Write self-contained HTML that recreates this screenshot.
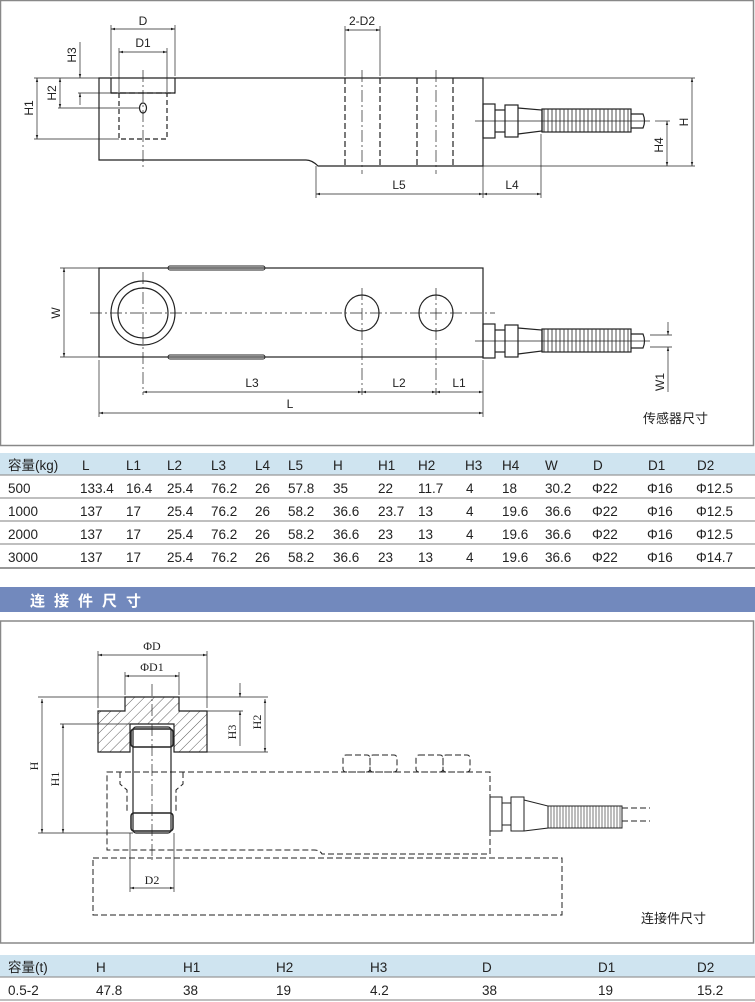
<!DOCTYPE html>
<html><head><meta charset="utf-8"><style>
body{margin:0;width:755px;height:1002px;background:#fff;overflow:hidden;font-family:"Liberation Sans","Noto Sans CJK SC",sans-serif}
svg{position:absolute;left:0;top:0}
</style></head><body>
<svg width="755" height="1002" viewBox="0 0 755 1002" font-family="Liberation Sans, Noto Sans CJK SC, sans-serif">
<defs>
<pattern id="hat" width="7" height="7" patternUnits="userSpaceOnUse" patternTransform="rotate(45)"><line x1="0" y1="0" x2="0" y2="7" stroke="#333" stroke-width="0.8"/></pattern>
<marker id="a" viewBox="0 0 10 10" refX="10" refY="5" markerWidth="6" markerHeight="6" orient="auto-start-reverse"><path d="M0,2 L10,5 L0,8z" fill="#222"/></marker>
</defs>
<!-- frame 1 -->
<rect x="0.5" y="0.5" width="753" height="445" fill="none" stroke="#888" stroke-width="1.5"/>
<g stroke="#222" fill="none" stroke-width="1.2">
<!-- top view -->
<path d="M99,78 H483 V166 H318 Q312,160 306,160 H99 Z"/>
<path d="M111,78 V93 H175 V78"/>
<path d="M119,93 V139 H167 V93" stroke-dasharray="5,3"/>
<line x1="111" y1="93" x2="175" y2="93" stroke-dasharray="6,3"/>
<ellipse cx="143" cy="108" rx="3.5" ry="5"/>
<g stroke-dasharray="6,3"><line x1="345" y1="78" x2="345" y2="166"/><line x1="380" y1="78" x2="380" y2="166"/><line x1="417" y1="78" x2="417" y2="166"/><line x1="453" y1="78" x2="453" y2="166"/></g>
<g stroke-width="0.7" stroke-dasharray="12,3,2,3"><line x1="143" y1="70" x2="143" y2="170"/><line x1="362" y1="70" x2="362" y2="174"/><line x1="436" y1="70" x2="436" y2="174"/></g>
<!-- connector top -->
<rect x="483" y="104" width="12" height="34"/><rect x="505" y="105" width="13" height="32"/><line x1="495" y1="110" x2="505" y2="110"/><line x1="495" y1="132" x2="505" y2="132"/>
<path d="M518,108 L542,110 V131 L518,134"/>
<rect x="542" y="109" width="89" height="23"/>
<path d="M631,114 H643 Q646,121 643,128 H631"/>
<!-- bottom view -->
<rect x="99" y="268" width="384" height="89"/>
<circle cx="143" cy="313" r="32"/><circle cx="143" cy="313" r="25"/>
<ellipse cx="362" cy="313" rx="17" ry="18"/><ellipse cx="436" cy="313" rx="17" ry="18"/>
<rect x="168" y="266" width="97" height="4" rx="2" stroke-width="0.9"/>
<rect x="168" y="355" width="97" height="4" rx="2" stroke-width="0.9"/>
<g stroke-width="0.7" stroke-dasharray="12,3,2,3"><line x1="90" y1="313" x2="495" y2="313"/><line x1="143" y1="272" x2="143" y2="395"/><line x1="362" y1="288" x2="362" y2="395"/><line x1="436" y1="288" x2="436" y2="395"/><line x1="475" y1="341" x2="650" y2="341" stroke-dasharray="none"/><line x1="475" y1="121" x2="650" y2="121" stroke-dasharray="none"/></g>
<rect x="483" y="324" width="12" height="34"/><rect x="505" y="325" width="13" height="32"/><line x1="495" y1="330" x2="505" y2="330"/><line x1="495" y1="352" x2="505" y2="352"/>
<path d="M518,328 L542,330 V351 L518,354"/>
<rect x="542" y="329" width="89" height="23"/>
<path d="M631,334 H643 Q646,341 643,348 H631"/>
</g>
<!-- springs -->
<g stroke="#222" stroke-width="0.8">
<path d="M544,109 v23 M548,109 v23 M552,109 v23 M556,109 v23 M560,109 v23 M564,109 v23 M568,109 v23 M572,109 v23 M576,109 v23 M580,109 v23 M584,109 v23 M588,109 v23 M592,109 v23 M596,109 v23 M600,109 v23 M604,109 v23 M608,109 v23 M612,109 v23 M616,109 v23 M620,109 v23 M624,109 v23 M628,109 v23"/>
<path d="M544,329 v23 M548,329 v23 M552,329 v23 M556,329 v23 M560,329 v23 M564,329 v23 M568,329 v23 M572,329 v23 M576,329 v23 M580,329 v23 M584,329 v23 M588,329 v23 M592,329 v23 M596,329 v23 M600,329 v23 M604,329 v23 M608,329 v23 M612,329 v23 M616,329 v23 M620,329 v23 M624,329 v23 M628,329 v23"/>
</g>
<!-- dims top -->
<g stroke="#222" stroke-width="0.7" fill="none">
<line x1="111" y1="25" x2="111" y2="76"/><line x1="175" y1="25" x2="175" y2="76"/><line x1="111" y1="29" x2="175" y2="29" marker-start="url(#a)" marker-end="url(#a)"/>
<line x1="119" y1="48" x2="119" y2="92"/><line x1="167" y1="48" x2="167" y2="92"/><line x1="119" y1="52" x2="167" y2="52" marker-start="url(#a)" marker-end="url(#a)"/>
<line x1="345" y1="26" x2="345" y2="76"/><line x1="380" y1="26" x2="380" y2="76"/><line x1="345" y1="30" x2="380" y2="30" marker-start="url(#a)" marker-end="url(#a)"/>
<line x1="34" y1="78" x2="99" y2="78"/><line x1="34" y1="139" x2="119" y2="139"/><line x1="37" y1="78" x2="37" y2="139" marker-start="url(#a)" marker-end="url(#a)"/>
<line x1="58" y1="108" x2="139" y2="108"/><line x1="60" y1="78" x2="60" y2="108" marker-start="url(#a)" marker-end="url(#a)"/>
<line x1="78" y1="93" x2="111" y2="93"/><line x1="80" y1="42" x2="80" y2="78" marker-end="url(#a)"/><line x1="80" y1="93" x2="80" y2="105" marker-start="url(#a)"/>
<line x1="483" y1="78" x2="695" y2="78"/><line x1="483" y1="166" x2="695" y2="166"/><line x1="692" y1="78" x2="692" y2="166" marker-start="url(#a)" marker-end="url(#a)"/>
<line x1="655" y1="121" x2="670" y2="121"/><line x1="667" y1="121" x2="667" y2="166" marker-start="url(#a)" marker-end="url(#a)"/>
<line x1="316" y1="166" x2="316" y2="198"/><line x1="483" y1="140" x2="483" y2="198"/><line x1="541" y1="134" x2="541" y2="198"/>
<line x1="316" y1="194" x2="483" y2="194" marker-start="url(#a)" marker-end="url(#a)"/><line x1="483" y1="194" x2="541" y2="194" marker-start="url(#a)" marker-end="url(#a)"/>
<line x1="60" y1="268" x2="99" y2="268"/><line x1="60" y1="357" x2="99" y2="357"/><line x1="64" y1="268" x2="64" y2="357" marker-start="url(#a)" marker-end="url(#a)"/>
<line x1="650" y1="335" x2="672" y2="335"/><line x1="650" y1="347" x2="672" y2="347"/>
<line x1="668" y1="322" x2="668" y2="335" marker-end="url(#a)"/><line x1="668" y1="347" x2="668" y2="392" marker-start="url(#a)"/>
<line x1="99" y1="360" x2="99" y2="417"/><line x1="483" y1="360" x2="483" y2="417"/>
<line x1="143" y1="392" x2="362" y2="392" marker-start="url(#a)" marker-end="url(#a)"/><line x1="362" y1="392" x2="436" y2="392" marker-start="url(#a)" marker-end="url(#a)"/><line x1="436" y1="392" x2="483" y2="392" marker-start="url(#a)" marker-end="url(#a)"/>
<line x1="99" y1="413" x2="483" y2="413" marker-start="url(#a)" marker-end="url(#a)"/>
</g>
<g font-size="12" fill="#222" text-anchor="middle">
<text x="143" y="25">D</text><text x="143" y="47">D1</text><text x="362" y="25">2-D2</text>
<text x="399" y="189">L5</text><text x="512" y="189">L4</text>
<text x="252" y="387">L3</text><text x="399" y="387">L2</text><text x="459" y="387">L1</text><text x="290" y="408">L</text>
<text transform="translate(33,108) rotate(-90)">H1</text><text transform="translate(56,93) rotate(-90)">H2</text><text transform="translate(76,55) rotate(-90)">H3</text>
<text transform="translate(688,122) rotate(-90)">H</text><text transform="translate(663,145) rotate(-90)">H4</text>
<text transform="translate(60,313) rotate(-90)">W</text><text transform="translate(664,382) rotate(-90)">W1</text>
</g>
<text x="643" y="423" font-size="13" fill="#222">传感器尺寸</text>

<!-- table 1 -->
<rect x="0" y="453" width="755" height="22" fill="#cfe4f0"/>
<g stroke="#999" stroke-width="1.2"><line x1="0" y1="475" x2="755" y2="475"/><line x1="0" y1="498" x2="755" y2="498"/><line x1="0" y1="521" x2="755" y2="521"/><line x1="0" y1="544" x2="755" y2="544"/><line x1="0" y1="568" x2="755" y2="568" stroke="#777" stroke-width="1.5"/></g>
<g font-size="13.5" fill="#222">
<g transform="translate(0,470)"><text x="8">容量(kg)</text><text x="82">L</text><text x="126">L1</text><text x="167">L2</text><text x="211">L3</text><text x="255">L4</text><text x="288">L5</text><text x="333">H</text><text x="378">H1</text><text x="418">H2</text><text x="465">H3</text><text x="502">H4</text><text x="545">W</text><text x="593">D</text><text x="648">D1</text><text x="697">D2</text></g>
<g transform="translate(0,493)"><text x="8">500</text><text x="80">133.4</text><text x="126">16.4</text><text x="167">25.4</text><text x="211">76.2</text><text x="255">26</text><text x="288">57.8</text><text x="333">35</text><text x="378">22</text><text x="418">11.7</text><text x="466">4</text><text x="502">18</text><text x="545">30.2</text><text x="592">Φ22</text><text x="647">Φ16</text><text x="696">Φ12.5</text></g>
<g transform="translate(0,516)"><text x="8">1000</text><text x="80">137</text><text x="126">17</text><text x="167">25.4</text><text x="211">76.2</text><text x="255">26</text><text x="288">58.2</text><text x="333">36.6</text><text x="378">23.7</text><text x="418">13</text><text x="466">4</text><text x="502">19.6</text><text x="545">36.6</text><text x="592">Φ22</text><text x="647">Φ16</text><text x="696">Φ12.5</text></g>
<g transform="translate(0,539)"><text x="8">2000</text><text x="80">137</text><text x="126">17</text><text x="167">25.4</text><text x="211">76.2</text><text x="255">26</text><text x="288">58.2</text><text x="333">36.6</text><text x="378">23</text><text x="418">13</text><text x="466">4</text><text x="502">19.6</text><text x="545">36.6</text><text x="592">Φ22</text><text x="647">Φ16</text><text x="696">Φ12.5</text></g>
<g transform="translate(0,562)"><text x="8">3000</text><text x="80">137</text><text x="126">17</text><text x="167">25.4</text><text x="211">76.2</text><text x="255">26</text><text x="288">58.2</text><text x="333">36.6</text><text x="378">23</text><text x="418">13</text><text x="466">4</text><text x="502">19.6</text><text x="545">36.6</text><text x="592">Φ22</text><text x="647">Φ16</text><text x="696">Φ14.7</text></g>
</g>
<!-- section bar -->
<rect x="0" y="587" width="755" height="25" fill="#7289bd"/>
<text x="30" y="606" font-size="15" font-weight="bold" fill="#fff" letter-spacing="9">连接件尺寸</text>

<!-- frame 2 -->
<rect x="0.5" y="621" width="753" height="322" fill="none" stroke="#888" stroke-width="1.5"/>
<g stroke="#222" stroke-width="1" fill="none">
<path d="M125,697 H179 V711 H207 V752 H174 V724 H130 V752 H98 V711 H125 Z" fill="url(#hat)" stroke-width="1.2"/>
<rect x="133" y="727" width="38" height="106" rx="3" fill="#fff" stroke-width="1.2"/>
<rect x="131" y="729" width="42" height="18" rx="3" stroke-width="1.5"/>
<rect x="131" y="813" width="42" height="18" rx="3" stroke-width="1.5"/>
<g stroke-dasharray="6,3">
<path d="M107,772 H490 V854 H322 Q320,850 314,850 H107 Z"/>
<path d="M93,858 H562 V915 H93 Z"/>
<path d="M120,772 V784 L127,790 V812 M183,772 V784 L176,790 V812"/>
<rect x="343" y="755" width="27" height="17" rx="3"/><rect x="370" y="755" width="27" height="17" rx="3"/>
<rect x="416" y="755" width="27" height="17" rx="3"/><rect x="443" y="755" width="27" height="17" rx="3"/>
<line x1="622" y1="808" x2="650" y2="808"/><line x1="622" y1="821" x2="650" y2="821"/>
</g>
<line x1="152" y1="684" x2="152" y2="860" stroke-width="0.7" stroke-dasharray="12,3,2,3"/>
<rect x="490" y="797" width="12" height="34"/><rect x="511" y="797" width="13" height="34"/><line x1="502" y1="803" x2="511" y2="803"/><line x1="502" y1="825" x2="511" y2="825"/>
<path d="M524,800 L548,806 V828 L524,831"/>
<rect x="548" y="806" width="74" height="22"/>
</g>
<g stroke="#222" stroke-width="0.6"><path d="M551,806v22M554,806v22M557,806v22M560,806v22M563,806v22M566,806v22M569,806v22M572,806v22M575,806v22M578,806v22M581,806v22M584,806v22M587,806v22M590,806v22M593,806v22M596,806v22M599,806v22M602,806v22M605,806v22M608,806v22M611,806v22M614,806v22M617,806v22M620,806v22"/></g>
<g stroke="#222" stroke-width="0.7" fill="none">
<line x1="98" y1="651" x2="98" y2="708"/><line x1="207" y1="651" x2="207" y2="708"/><line x1="98" y1="655" x2="207" y2="655" marker-start="url(#a)" marker-end="url(#a)"/>
<line x1="125" y1="672" x2="125" y2="695"/><line x1="179" y1="672" x2="179" y2="695"/><line x1="125" y1="676" x2="179" y2="676" marker-start="url(#a)" marker-end="url(#a)"/>
<line x1="38" y1="697" x2="268" y2="697"/><line x1="38" y1="833" x2="133" y2="833"/><line x1="42" y1="699" x2="42" y2="833" marker-start="url(#a)" marker-end="url(#a)"/>
<line x1="60" y1="724" x2="130" y2="724"/><line x1="63" y1="724" x2="63" y2="833" marker-start="url(#a)" marker-end="url(#a)"/>
<line x1="179" y1="711" x2="243" y2="711"/><line x1="207" y1="752" x2="268" y2="752"/>
<line x1="240" y1="683" x2="240" y2="697" marker-end="url(#a)"/><line x1="240" y1="711" x2="240" y2="746" marker-start="url(#a)"/>
<line x1="265" y1="699" x2="265" y2="752" marker-start="url(#a)" marker-end="url(#a)"/>
<line x1="130" y1="833" x2="130" y2="892"/><line x1="174" y1="833" x2="174" y2="892"/><line x1="130" y1="888" x2="174" y2="888" marker-start="url(#a)" marker-end="url(#a)"/>
</g>
<g font-family="Liberation Serif, serif" font-size="12" fill="#222" text-anchor="middle">
<text x="152" y="650">ΦD</text><text x="152" y="671">ΦD1</text><text x="152" y="884">D2</text>
<text transform="translate(38,766) rotate(-90)">H</text><text transform="translate(59,779) rotate(-90)">H1</text>
<text transform="translate(236,732) rotate(-90)">H3</text><text transform="translate(261,722) rotate(-90)">H2</text>
</g>
<text x="641" y="923" font-size="13" fill="#222">连接件尺寸</text>

<!-- table 2 -->
<rect x="0" y="955" width="755" height="22" fill="#cfe4f0"/>
<g stroke="#999" stroke-width="1.2"><line x1="0" y1="977" x2="755" y2="977"/><line x1="0" y1="1000" x2="755" y2="1000"/></g>
<g font-size="13.5" fill="#222">
<g transform="translate(0,972)"><text x="8">容量(t)</text><text x="96">H</text><text x="183">H1</text><text x="276">H2</text><text x="370">H3</text><text x="482">D</text><text x="598">D1</text><text x="697">D2</text></g>
<g transform="translate(0,995)"><text x="8">0.5-2</text><text x="96">47.8</text><text x="183">38</text><text x="276">19</text><text x="370">4.2</text><text x="482">38</text><text x="598">19</text><text x="697">15.2</text></g>
</g>
</svg>
</body></html>
